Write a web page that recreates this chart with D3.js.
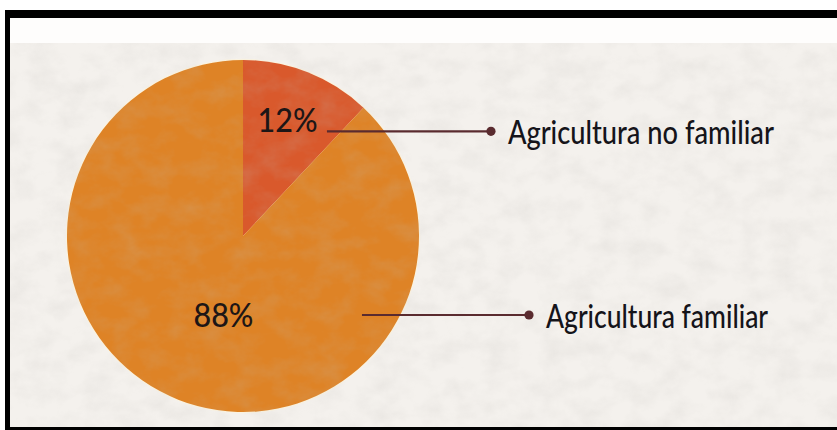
<!DOCTYPE html>
<html lang="es">
<head>
<meta charset="utf-8">
<script src="https://cdn.jsdelivr.net/npm/d3@7/dist/d3.min.js"></script>
<style>
  html, body { margin: 0; padding: 0; background: #ffffff; }
  svg { display: block; }
</style>
</head>
<body>
<svg id="chart" width="837" height="430"></svg>
<script>
// Distribución de la agricultura: familiar vs. no familiar
const categories = ["Agricultura no familiar", "Agricultura familiar"];
const values = [12, 88];
const sliceColors = ["#d9592c", "#de8326"];

const W = 837, H = 430;
const svg = d3.select("#chart");

// --- frame and paper background ---------------------------------------
const defs = svg.append("defs");
const paper = defs.append("filter")
  .attr("id", "paper")
  .attr("x", 0).attr("y", 0).attr("width", "100%").attr("height", "100%");
paper.append("feTurbulence")
  .attr("type", "fractalNoise")
  .attr("baseFrequency", "0.035 0.05")
  .attr("numOctaves", 4)
  .attr("seed", 7)
  .attr("result", "noise");
paper.append("feColorMatrix")
  .attr("in", "noise")
  .attr("type", "matrix")
  .attr("values", "0 0 0 0 0.55  0 0 0 0 0.53  0 0 0 0 0.50  0 0 0 -1.6 1.0");

svg.append("rect").attr("x", 10).attr("y", 18).attr("width", W - 10).attr("height", 25)
  .attr("fill", "#fefdfc");
svg.append("rect").attr("x", 10).attr("y", 43).attr("width", W - 10).attr("height", 384)
  .attr("fill", "#f4f1ed");

// --- pie -----------------------------------------------------------------
const cx = 243, cy = 236, r = 176;
const pie = d3.pie().sort(null).value(d => d)(values);
const arc = d3.arc().innerRadius(0).outerRadius(r);

const g = svg.append("g").attr("transform", `translate(${cx},${cy})`);
g.append("circle").attr("r", r + 1.2).attr("fill", "#fbf3df");
g.selectAll("path.slice")
  .data(pie)
  .join("path")
  .attr("class", "slice")
  .attr("d", arc)
  .attr("fill", (d, i) => sliceColors[i]);

// light paper grain over the whole sheet
svg.append("rect").attr("x", 10).attr("y", 43).attr("width", W - 10).attr("height", 384)
  .attr("filter", "url(#paper)").attr("opacity", 0.22);

// --- percentage labels and leader lines ---------------------------------
const fontStack = "Lato, 'Open Sans', 'Liberation Sans Narrow', sans-serif";
const total = d3.sum(values);
const fmt = v => Math.round(v / total * 100) + "%";

// placement of each label relative to the pie, in units of the radius
const layout = [
  { pct: [0.253, -0.59], lead: [0.477, -0.595], dot: 1.409, text: 1.505, textW: 266 },
  { pct: [-0.111, 0.517], lead: [0.676, 0.449], dot: 1.625, text: 1.722, textW: 222 }
];

const labels = svg.append("g");
pie.forEach((d, i) => {
  const L = layout[i];
  labels.append("text")
    .attr("x", cx + L.pct[0] * r)
    .attr("y", cy + L.pct[1] * r)
    .attr("text-anchor", "middle")
    .attr("font-family", fontStack)
    .attr("font-size", 33)
    .attr("font-weight", 500)
    .attr("textLength", 60)
    .attr("lengthAdjust", "spacingAndGlyphs")
    .attr("fill", "#1d1616")
    .text(fmt(d.data));

  const ly = cy + L.lead[1] * r;
  labels.append("line")
    .attr("x1", cx + L.lead[0] * r).attr("y1", ly)
    .attr("x2", cx + L.dot * r).attr("y2", ly)
    .attr("stroke", "#5a2b2f").attr("stroke-width", 2.2);
  labels.append("circle")
    .attr("cx", cx + L.dot * r).attr("cy", ly).attr("r", 4.6)
    .attr("fill", "#5a2b2f");
  labels.append("text")
    .attr("x", cx + L.text * r)
    .attr("y", ly + 13)
    .attr("font-family", fontStack)
    .attr("font-size", 32)
    .attr("font-weight", 500)
    .attr("textLength", L.textW)
    .attr("lengthAdjust", "spacingAndGlyphs")
    .attr("fill", "#15141a")
    .text(categories[i]);
});

// --- black frame (top, left, bottom) ------------------------------------
svg.append("rect").attr("x", 5).attr("y", 10).attr("width", W - 5).attr("height", 8).attr("fill", "#000");
svg.append("rect").attr("x", 5).attr("y", 10).attr("width", 5).attr("height", H - 10).attr("fill", "#000");
svg.append("rect").attr("x", 5).attr("y", 427).attr("width", W - 5).attr("height", 3).attr("fill", "#000");
</script>
</body>
</html>
